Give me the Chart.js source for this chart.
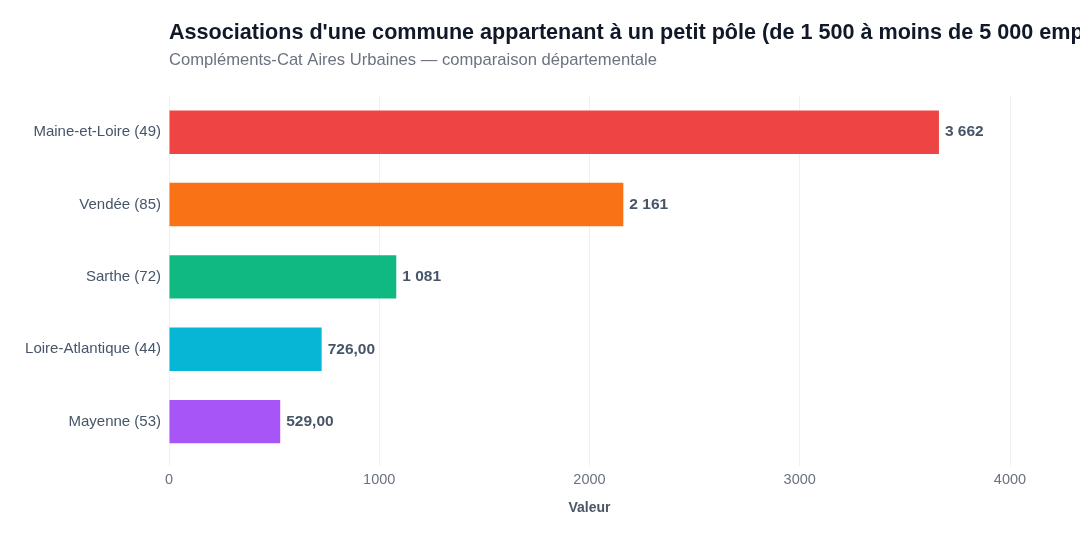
<!DOCTYPE html>
<html>
<head>
<meta charset="utf-8">
<script src="https://cdn.jsdelivr.net/npm/chart.js@4"></script>
<style>
  html, body { margin: 0; padding: 0; background: #ffffff; }
  #wrap { width: 1080px; height: 540px; }
</style>
</head>
<body>
<div id="wrap"><canvas id="myChart"></canvas></div>
<script>
var departements = ['Maine-et-Loire (49)', 'Vendée (85)', 'Sarthe (72)', 'Loire-Atlantique (44)', 'Mayenne (53)'];
var valeurs = [3662, 2161, 1081, 726, 529];
var couleurs = ['#ef4444', '#f97316', '#10b981', '#06b6d4', '#a855f7'];
var xTicks = [0, 1000, 2000, 3000, 4000];
var titre = "Associations d'une commune appartenant à un petit pôle (de 1 500 à moins de 5 000 emplois)";
var sousTitre = 'Compléments-Cat Aires Urbaines — comparaison départementale';

var police = '"Liberation Sans", Arial, sans-serif';

function formatValeur(v) {
    if (v >= 1000) {
        return String(Math.round(v)).replace(/\B(?=(\d{3})+(?!\d))/g, ' ');
    }
    return v.toFixed(2).replace('.', ',');
}

// titres + etiquettes au bout des barres
var textes = {
    id: 'textes',
    afterDatasetsDraw: function(chart) {
        var ctx = chart.ctx;
        var meta = chart.getDatasetMeta(0);
        ctx.save();
        ctx.font = 'bold 15.5px ' + police;
        ctx.fillStyle = '#475569';
        ctx.textAlign = 'left';
        ctx.textBaseline = 'middle';
        meta.data.forEach(function(bar, i) {
            ctx.fillText(formatValeur(valeurs[i]), bar.x + 6, bar.y);
        });

        // le titre deborde a droite, comme sur l'original
        var x0 = chart.chartArea.left;
        ctx.font = 'bold 21.6px ' + police;
        ctx.fillStyle = '#111827';
        ctx.fillText(titre, x0, 33);

        ctx.font = '16.6px ' + police;
        ctx.fillStyle = '#6b7280';
        ctx.fillText(sousTitre, x0, 60);
        ctx.restore();
    }
};

Chart.defaults.font.family = police;

var ctx = document.getElementById('myChart').getContext('2d');
var myChart = new Chart(ctx, {
    type: 'bar',
    data: {
        labels: departements,
        datasets: [{
            data: valeurs,
            backgroundColor: couleurs,
            borderWidth: 0,
            barPercentage: 0.6,
            categoryPercentage: 1
        }]
    },
    options: {
        indexAxis: 'y',
        responsive: true,
        maintainAspectRatio: false,
        animation: false,
        layout: {
            padding: { left: 0, right: 70, top: 96, bottom: 23 }
        },
        plugins: {
            legend: { display: false },
            tooltip: { enabled: false }
        },
        scales: {
            x: {
                min: 0,
                max: 4000,
                afterBuildTicks: function(axis) {
                    axis.ticks = xTicks.map(function(v) { return { value: v }; });
                },
                grid: { color: '#eef0f4', drawTicks: true, tickLength: 8 },
                border: { display: false },
                ticks: {
                    color: '#6b7280',
                    font: { size: 14.5 },
                    padding: 5,
                    callback: function(v) { return String(v); }
                },
                title: {
                    display: true,
                    text: 'Valeur',
                    color: '#4b5563',
                    font: { size: 14, weight: 'bold' },
                    padding: { top: 7, bottom: 0 }
                }
            },
            y: {
                afterFit: function(axis) { axis.width = 169; },
                grid: { display: false, drawTicks: false },
                border: { display: false },
                ticks: {
                    color: '#475569',
                    font: { size: 15 },
                    padding: 8
                }
            }
        }
    },
    plugins: [textes]
});
</script>
</body>
</html>
